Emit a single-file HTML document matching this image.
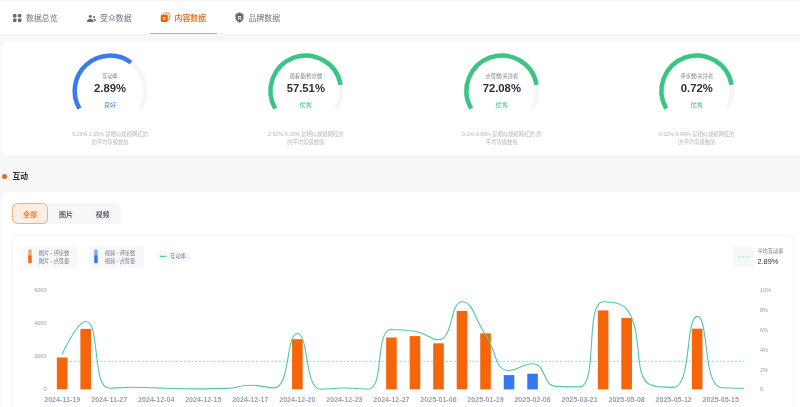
<!DOCTYPE html>
<html lang="zh-CN">
<head>
<meta charset="utf-8">
<title>内容数据</title>
<style>
html,body{margin:0;padding:0;}
body{width:800px;height:407px;overflow:hidden;background:#f6f7f9;position:relative;font-family:"Liberation Sans","Noto Sans CJK SC",sans-serif;color:#2b2f40;}
.abs{position:absolute;}
#nav{position:absolute;left:0;top:0;width:800px;height:34px;background:#fff;}
#topline{position:absolute;left:0;top:0;width:800px;height:1px;background:#f6f6f8;}
.tab{position:absolute;top:13.6px;height:10px;line-height:10px;font-size:7.9px;color:#6e7284;white-space:nowrap;}
.tab.on{color:#e8640c;font-weight:500;}
#uline{position:absolute;left:150px;top:33.4px;width:67px;height:1px;background:#eda469;}
#card1{position:absolute;left:0.6px;top:42.4px;width:820px;height:113.1px;background:#fff;border-radius:7px;}
#card2{position:absolute;left:0.6px;top:192.4px;width:820px;height:260px;background:#fff;border-radius:7px;}
.g{position:absolute;top:0;width:120px;text-align:center;}
.gl{position:absolute;left:0;width:120px;top:73.2px;font-size:5.2px;line-height:7px;color:#7e8290;}
.gv{position:absolute;left:0;width:120px;top:81px;font-size:11.3px;line-height:14px;font-weight:bold;color:#2b2f3e;}
.gg{position:absolute;left:0;width:120px;top:101.1px;font-size:6.2px;line-height:8px;}
.gd{position:absolute;left:-10px;width:140px;top:129.7px;font-size:5.3px;line-height:8px;color:#b4b7c0;}
#hd{position:absolute;left:12.5px;top:171px;font-size:7.8px;line-height:11px;font-weight:bold;color:#2a2e3f;}
#dot{position:absolute;left:1.5px;top:173.5px;width:5.2px;height:5.2px;border-radius:50%;background:#f0670f;}
#seg{position:absolute;left:12px;top:203.3px;width:108.5px;height:21px;background:#f6f7f9;border-radius:5.5px;}
#segon{position:absolute;left:11.8px;top:203px;width:36.4px;height:21.4px;box-sizing:border-box;border:1px solid #efb080;background:#fdeee2;border-radius:5.5px;}
.st{position:absolute;top:209.9px;width:40px;text-align:center;font-size:7px;line-height:10px;font-weight:500;color:#3f4355;}
#panel{position:absolute;left:12.4px;top:235.4px;width:781.6px;height:200px;box-sizing:border-box;border:0.8px solid #f6f7f9;border-radius:5px;background:#fff;}
.lg{position:absolute;top:245.6px;height:22px;background:#f7f8fa;border-radius:3.5px;}
.lgt{position:absolute;font-size:5.2px;line-height:8px;color:#777b8c;white-space:nowrap;}
svg text{font-family:"Liberation Sans","Noto Sans CJK SC",sans-serif;}
</style>
</head>
<body>
<div id="nav">
  <div id="topline"></div>
  <svg class="abs" style="left:13.1px;top:14px" width="8.5" height="8" viewBox="0 0 8.5 8"><g fill="#63677a"><rect x="0" y="0" width="3.5" height="3.4" rx="0.9"/><circle cx="6.65" cy="1.75" r="1.85"/><rect x="0" y="4.5" width="3.5" height="3.4" rx="0.9"/><rect x="4.9" y="4.5" width="3.5" height="3.4" rx="0.9"/></g></svg>
  <div class="tab" style="left:26px">数据总览</div>
  <svg class="abs" style="left:87px;top:14.5px" width="9" height="7" viewBox="0 0 9 7"><g fill="#63677a"><circle cx="3.3" cy="1.5" r="1.45"/><path d="M0 6.9 C0 4.6 1.4 3.7 3.3 3.7 C5.2 3.7 6.6 4.6 6.6 6.9 Z"/><circle cx="7.1" cy="2.0" r="1.05"/><path d="M6.6 3.6 C8 3.5 8.9 4.3 8.9 5.9 L7.4 5.9 C7.3 4.9 7.0 4.2 6.4 3.7 Z"/></g></svg>
  <div class="tab" style="left:100px">受众数据</div>
  <svg class="abs" style="left:160px;top:12.3px" width="11" height="11" viewBox="0 0 11 11"><rect x="3.1" y="0.9" width="6.7" height="7.2" rx="1.3" fill="#fde6d6" stroke="#ea7526" stroke-width="0.8"/><rect x="0.8" y="2.7" width="7.0" height="7.4" rx="1.3" fill="#e8640c"/><text x="4.3" y="8.0" font-size="4.2" font-weight="bold" fill="#fff" text-anchor="middle">D</text></svg>
  <div class="tab on" style="left:174.5px">内容数据</div>
  <svg class="abs" style="left:235px;top:12.2px" width="9" height="11" viewBox="0 0 9 11"><path d="M4.5 0.6 L8.3 1.9 L8.3 6.1 C8.3 8.3 6.6 9.7 4.5 10.5 C2.4 9.7 0.7 8.3 0.7 6.1 L0.7 1.9 Z" fill="#5f6378" stroke="#a9acbb" stroke-width="0.7"/><text x="4.5" y="7.5" font-size="5.2" font-weight="bold" fill="#fff" text-anchor="middle">R</text></svg>
  <div class="tab" style="left:248.5px">品牌数据</div>
  <div id="uline"></div>
</div>

<div id="card1"></div>
<svg class="abs" style="left:0;top:0" width="800" height="160" viewBox="0 0 800 160"><path d="M79.43 108.55 A35.30 35.30 0 1 1 140.57 108.55" stroke="#f5f6f9" stroke-width="4.5" fill="none"/><path d="M79.43 108.55 A35.30 35.30 0 0 1 131.00 62.52" stroke="#3a7cf0" stroke-width="4.5" fill="none"/><path d="M275.23 108.55 A35.30 35.30 0 1 1 336.37 108.55" stroke="#f5f6f9" stroke-width="4.5" fill="none"/><path d="M275.23 108.55 A35.30 35.30 0 1 1 340.56 84.77" stroke="#3bc584" stroke-width="4.5" fill="none"/><path d="M471.23 108.55 A35.30 35.30 0 1 1 532.37 108.55" stroke="#f5f6f9" stroke-width="4.5" fill="none"/><path d="M471.23 108.55 A35.30 35.30 0 1 1 536.56 84.77" stroke="#3bc584" stroke-width="4.5" fill="none"/><path d="M666.23 108.55 A35.30 35.30 0 1 1 727.37 108.55" stroke="#f5f6f9" stroke-width="4.5" fill="none"/><path d="M666.23 108.55 A35.30 35.30 0 1 1 731.56 84.77" stroke="#3bc584" stroke-width="4.5" fill="none"/></svg>
<div class="g" style="left:50.0px"><div class="gl">互动率</div><div class="gv">2.89%</div><div class="gg" style="color:#3a7cf0">良好</div><div class="gd">0.26%-1.35% 是相似规模网红的<br>的平均等级数值</div></div>
<div class="g" style="left:245.8px"><div class="gl">观看量/粉丝数</div><div class="gv">57.51%</div><div class="gg" style="color:#3bc584">优秀</div><div class="gd">2.92%-9.23% 是相似规模网红的<br>的平均等级数值</div></div>
<div class="g" style="left:441.8px"><div class="gl">点赞数/关注者</div><div class="gv">72.08%</div><div class="gg" style="color:#3bc584">优秀</div><div class="gd">0.1%-0.68% 是相似规模网红的 的<br>平均等级数值</div></div>
<div class="g" style="left:636.8px"><div class="gl">评论数/关注者</div><div class="gv">0.72%</div><div class="gg" style="color:#3bc584">优秀</div><div class="gd">0.02%-0.04% 是相似规模网红的<br>的平均等级数值</div></div>


<div id="dot"></div><div id="hd">互动</div>

<div id="card2"></div>
<div id="seg"></div><div id="segon"></div>
<div class="st" style="left:10px;color:#e8640c">全部</div>
<div class="st" style="left:46px">图片</div>
<div class="st" style="left:82.5px">视频</div>

<div id="panel"></div>
<div class="lg" style="left:23.2px;width:54.6px"></div>
<div class="lg" style="left:89.2px;width:55px"></div>
<div class="lg" style="left:156.2px;width:35px;top:251.2px;height:10.2px;border-radius:5.1px"></div>
<svg class="abs" style="left:0;top:240px" width="800" height="40" viewBox="0 240 800 40">
  <rect x="28.2" y="249.6" width="3.5" height="7" rx="0.8" fill="#f6a46d"/><rect x="28.2" y="255.6" width="3.5" height="7.6" rx="0.8" fill="#ec6a12"/>
  <rect x="94.2" y="249.6" width="3.5" height="7" rx="0.8" fill="#7fa9f5"/><rect x="94.2" y="255.6" width="3.5" height="7.6" rx="0.8" fill="#3579f2"/>
  <rect x="160" y="255.8" width="6.4" height="1.1" fill="#3cc787"/>
</svg>
<div class="lgt" style="left:38.7px;top:249.3px">图片 - 评论数<br>图片 - 点赞量</div>
<div class="lgt" style="left:104.7px;top:249.3px">视频 - 评论数<br>视频 - 点赞量</div>
<div class="lgt" style="left:170.3px;top:252.3px">互动率</div>

<div class="abs" style="left:732.5px;top:246.2px;width:21.3px;height:21.3px;background:#f6f7f9;border-radius:3.5px"></div>
<svg class="abs" style="left:732px;top:246px" width="23" height="22" viewBox="732 246 23 22"><path d="M738 257 h11" stroke="#8fdcc0" stroke-width="0.9" stroke-dasharray="2.3 1.9" fill="none"/></svg>
<div class="lgt" style="left:757.4px;top:246.5px;color:#777b8c">平均互动率</div>
<div class="abs" style="left:757.4px;top:257.2px;font-size:7.4px;line-height:10px;color:#2b2f3e;white-space:nowrap">2.89%</div>

<svg class="abs" style="left:0;top:280px" width="800" height="127" viewBox="0 280 800 127">
  <path d="M62.16 361.3 H744.24" stroke="#6fd3b0" stroke-width="0.8" stroke-dasharray="2.2 1.6" fill="none"/>
  <rect x="56.86" y="357.50" width="10.60" height="31.90" fill="#f5660b"/><rect x="80.38" y="328.90" width="10.60" height="60.50" fill="#f5660b"/><rect x="292.06" y="339.20" width="10.60" height="50.20" fill="#f5660b"/><rect x="386.14" y="337.50" width="10.60" height="51.90" fill="#f5660b"/><rect x="409.66" y="336.10" width="10.60" height="53.30" fill="#f5660b"/><rect x="433.18" y="343.30" width="10.60" height="46.10" fill="#f5660b"/><rect x="456.70" y="310.90" width="10.60" height="78.50" fill="#f5660b"/><rect x="480.22" y="333.30" width="10.60" height="56.10" fill="#f5660b"/><rect x="503.74" y="375.10" width="10.60" height="14.30" fill="#3579f2"/><rect x="527.26" y="373.70" width="10.60" height="15.70" fill="#3579f2"/><rect x="597.82" y="310.40" width="10.60" height="79.00" fill="#f5660b"/><rect x="621.34" y="317.90" width="10.60" height="71.50" fill="#f5660b"/><rect x="691.90" y="328.70" width="10.60" height="60.70" fill="#f5660b"/><rect x="127.42" y="388.80" width="10.60" height="0.6" fill="#f8e4d8"/><rect x="245.02" y="388.80" width="10.60" height="0.6" fill="#f8e4d8"/><rect x="550.78" y="388.80" width="10.60" height="0.6" fill="#f8e4d8"/><rect x="574.30" y="388.80" width="10.60" height="0.6" fill="#f8e4d8"/><rect x="644.86" y="388.80" width="10.60" height="0.6" fill="#f8e4d8"/><rect x="668.38" y="388.80" width="10.60" height="0.6" fill="#f8e4d8"/><rect x="715.42" y="388.80" width="10.60" height="0.6" fill="#f8e4d8"/><rect x="738.94" y="388.80" width="10.60" height="0.6" fill="#f8e4d8"/>
  <path d="M62.16 353.99 C62.16 353.99 77.17 321.45 85.68 321.45 C100.69 321.45 91.55 388.21 109.20 388.21 C115.07 388.21 120.96 387.22 132.72 387.22 C144.48 387.22 144.48 387.56 156.24 387.91 C168.00 388.26 168.00 388.36 179.76 388.61 C191.52 388.85 191.52 388.90 203.28 388.90 C215.04 388.90 215.09 388.90 226.80 388.41 C238.61 387.91 238.54 385.23 250.32 385.23 C262.06 385.23 267.13 387.91 273.84 387.91 C290.65 387.91 285.72 333.45 297.36 333.45 C309.24 333.45 303.95 389.20 320.88 389.20 C327.47 389.20 332.64 388.01 344.40 388.01 C356.16 388.01 361.61 389.20 367.92 389.20 C385.13 389.20 374.24 329.48 391.44 329.48 C397.76 329.48 403.56 329.48 414.96 331.17 C427.08 332.96 430.03 339.80 438.48 339.80 C453.55 339.80 449.67 301.81 462.00 301.81 C473.19 301.81 474.07 318.11 485.52 334.84 C497.59 352.48 494.09 370.55 509.04 370.55 C517.61 370.55 522.49 363.71 532.56 363.71 C546.01 363.71 542.40 385.73 556.08 386.42 C565.92 386.92 574.65 386.92 579.60 386.92 C598.17 386.92 584.73 301.81 603.12 301.81 C608.25 301.81 621.07 301.81 626.64 309.05 C644.59 332.40 632.04 376.19 650.16 384.84 C655.56 387.42 668.03 387.42 673.68 387.42 C691.55 387.42 685.44 316.39 697.20 316.39 C708.96 316.39 702.83 384.89 720.72 387.42 C726.35 388.21 744.24 388.21 744.24 388.21" stroke="#50c9a0" stroke-width="1.1" fill="none" stroke-linejoin="round"/>
  <g font-size="5.6" fill="#9b9fae"><text x="46.6" y="391.40" text-anchor="end">0</text><text x="46.6" y="358.33" text-anchor="end">2000</text><text x="46.6" y="325.27" text-anchor="end">4000</text><text x="46.6" y="292.20" text-anchor="end">6000</text><text x="760" y="391.40">0</text><text x="760" y="371.56">2%</text><text x="760" y="351.72">4%</text><text x="760" y="331.88">6%</text><text x="760" y="312.04">8%</text><text x="760" y="292.20">10%</text></g>
  <g font-size="7.1" font-weight="bold" fill="#9b9eaf"><text x="62.16" y="402.3" text-anchor="middle">2024-11-19</text><text x="109.20" y="402.3" text-anchor="middle">2024-11-27</text><text x="156.24" y="402.3" text-anchor="middle">2024-12-04</text><text x="203.28" y="402.3" text-anchor="middle">2024-12-15</text><text x="250.32" y="402.3" text-anchor="middle">2024-12-17</text><text x="297.36" y="402.3" text-anchor="middle">2024-12-20</text><text x="344.40" y="402.3" text-anchor="middle">2024-12-23</text><text x="391.44" y="402.3" text-anchor="middle">2024-12-27</text><text x="438.48" y="402.3" text-anchor="middle">2025-01-06</text><text x="485.52" y="402.3" text-anchor="middle">2025-01-19</text><text x="532.56" y="402.3" text-anchor="middle">2025-02-06</text><text x="579.60" y="402.3" text-anchor="middle">2025-03-21</text><text x="626.64" y="402.3" text-anchor="middle">2025-05-08</text><text x="673.68" y="402.3" text-anchor="middle">2025-05-12</text><text x="720.72" y="402.3" text-anchor="middle">2025-05-15</text></g>
</svg>
</body>
</html>
